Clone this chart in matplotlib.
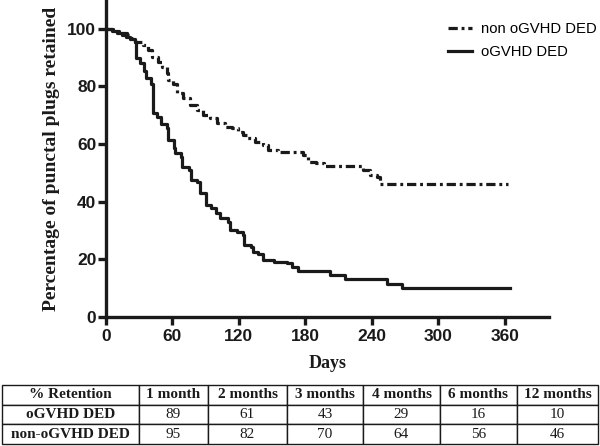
import matplotlib
matplotlib.use("Agg")
import matplotlib.pyplot as plt

# ---------------- data ----------------
ogvhd_days = [0, 5, 10, 14, 18, 22, 26, 27, 31, 34, 36, 41, 42, 46, 50, 55, 56, 61, 62,
              68, 69, 75, 77, 82, 85, 90.5, 95, 99, 103, 110, 112, 118, 124, 125, 131,
              133, 137, 142, 152, 163, 168, 173, 202, 216, 254, 267, 365]
ogvhd_pct = [100, 99.3, 98.6, 97.9, 97.2, 96.5, 95.5, 89.8, 88, 85.5, 83, 81, 70.7, 69.5,
             67, 65.5, 61.3, 58.5, 56.8, 55.4, 52, 51, 47.5, 46.8, 43, 38.8, 37.7, 36,
             34.2, 33, 30.1, 29.5, 28.4, 24.9, 24.3, 22.6, 22, 19.7, 19.1, 18.8, 17.4,
             16, 14.5, 13.1, 11.6, 9.9, 9.9]

non_days = [0, 6, 12, 19, 23, 26, 33, 38, 41.5, 47, 51, 55, 56, 60.5, 64, 69.5, 76, 82,
            87.5, 94, 100, 107, 114, 119, 124, 127, 134.5, 142, 146, 155, 178, 182, 190,
            197, 232, 238, 244.6, 247, 363]
non_pct = [100, 99.4, 98.4, 97.8, 96.7, 95.5, 94.3, 92.6, 90.3, 88.6, 86.8, 84.5, 82.2,
           81, 77.6, 76, 73.5, 71.8, 70, 69, 67.2, 66, 65.5, 64.2, 63, 62, 60.8, 59.6,
           57.9, 57.3, 56.1, 53.8, 53.3, 52.5, 50.9, 49.2, 48.6, 46.3, 46.3]

x_ticks = [0, 60, 120, 180, 240, 300, 360]
y_ticks = [0, 20, 40, 60, 80, 100]

table_header = ["% Retention", "1 month", "2 months", "3 months", "4 months",
                "6 months", "12 months"]
row_labels = ["oGVHD DED", "non-oGVHD DED"]
ogvhd_retention = [89, 61, 43, 29, 16, 10]
non_retention = [95, 82, 70, 64, 56, 46]

# ---------------- figure ----------------
W, H = 600, 446
fig = plt.figure(figsize=(6, 4.46), dpi=100)

ax = fig.add_axes([106 / W, 1 - 317 / H, (549 - 106) / W, 317 / H])
ax.set_xlim(0, 400)
ax.set_ylim(0, 110)

lw_line = 2.3
ax.plot(non_days, non_pct, drawstyle="steps-post", color="#1a1a1a", lw=lw_line,
        linestyle=(0, (2.9, 1.2, 0.9, 1.2)), label="non oGVHD DED")
ax.plot(ogvhd_days, ogvhd_pct, drawstyle="steps-post", color="#1a1a1a", lw=lw_line,
        label="oGVHD DED")

for s in ["top", "right"]:
    ax.spines[s].set_visible(False)
for s in ["left", "bottom"]:
    ax.spines[s].set_linewidth(2.4)
    ax.spines[s].set_color("#1a1a1a")

ax.set_xticks(x_ticks)
ax.set_yticks(y_ticks)
ax.tick_params(axis="both", direction="out", length=6, width=2.4, color="#1a1a1a",
               labelsize=12.5)
ax.tick_params(axis="x", pad=2.5)
ax.tick_params(axis="y", pad=1)
for lab in ax.get_xticklabels() + ax.get_yticklabels():
    lab.set_fontfamily("Liberation Sans")
    lab.set_fontweight("bold")
    lab.set_color("#1a1a1a")

ax.set_xlabel("Days", fontfamily="Liberation Serif", fontweight="bold", fontsize=13,
              labelpad=8, color="#1a1a1a")
ax.set_ylabel("Percentage of punctal plugs retained", fontfamily="Liberation Serif",
              fontweight="bold", fontsize=14, labelpad=5, color="#1a1a1a")

leg = ax.legend(loc="upper left", bbox_to_anchor=((448 - 106) / 443, 1 - 22 / 317),
                frameon=False, borderpad=0, borderaxespad=0,
                prop={"family": "Liberation Sans", "size": 10.7},
                handlelength=1.62, handletextpad=0.6, labelspacing=0.62)

# ---------------- table ----------------
tx0, tx1 = 2 / W, 598 / W
ty0, ty1 = 1 - 444 / H, 1 - 385 / H
tax = fig.add_axes([tx0, ty0, tx1 - tx0, ty1 - ty0])
tax.axis("off")
col_edges = [2, 139, 208, 287, 363, 440, 517, 598]
col_widths = [(col_edges[i + 1] - col_edges[i]) / (598 - 2) for i in range(7)]
cells = [table_header,
         [row_labels[0]] + [str(v) for v in ogvhd_retention],
         [row_labels[1]] + [str(v) for v in non_retention]]
tbl = tax.table(cellText=cells, colWidths=col_widths, bbox=[0, 0, 1, 1],
                cellLoc="center")
tbl.auto_set_font_size(False)
for (r, c), cell in tbl.get_celld().items():
    cell.set_linewidth(1.0)
    cell.set_edgecolor("#1a1a1a")
    txt = cell.get_text()
    txt.set_fontfamily("Liberation Serif")
    txt.set_fontsize(11)
    txt.set_color("#1a1a1a")
    if r == 0 or c == 0:
        txt.set_fontweight("bold")

fig.savefig("out.png", dpi=100)
